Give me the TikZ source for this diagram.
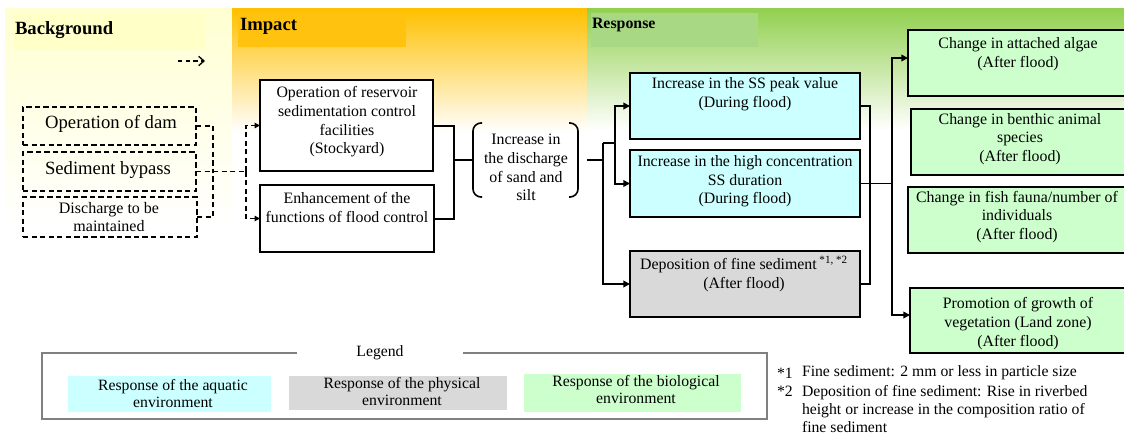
\documentclass[tikz,border=0pt]{standalone}
\usepackage{fontspec}
\setmainfont{Liberation Serif}
\usetikzlibrary{arrows.meta,fit,calc}

\definecolor{aqua}{HTML}{CCFFFF}
\definecolor{phys}{HTML}{D9D9D9}
\definecolor{bio}{HTML}{CCFFCC}
\definecolor{yelTop}{HTML}{FFFFD2}
\definecolor{yelMid}{HTML}{FFFFEA}
\definecolor{yelTitle}{HTML}{FFFFC8}
\definecolor{orTop}{HTML}{FFC000}
\definecolor{orMid}{HTML}{FFD868}
\definecolor{orTitle}{HTML}{FFC20E}
\definecolor{grTop}{HTML}{92D050}
\definecolor{grMid}{HTML}{C2E4A2}
\definecolor{grTitle}{HTML}{A8D884}
\definecolor{legGray}{HTML}{808080}

\newcommand\bxfont{\fontsize{11.9}{14}\selectfont}
\newcommand\lgfont{\fontsize{11.8}{12.8}\selectfont}
\newcommand\fnfont{\fontsize{11.8}{13.5}\selectfont}
\newcommand\bgfont{\fontsize{14}{16}\selectfont}

\begin{document}
\begin{tikzpicture}[x=0.75pt,y=-0.75pt,
  every node/.style={inner sep=0pt, outer sep=0pt},
  dashline/.style={line width=1pt, dash pattern=on 4pt off 2.4pt},
  dbox/.style={draw, dashline},
  sbox/.style={draw, line width=1.5pt},
  txt/.style={align=center, font=\bxfont},
  ttl/.style={anchor=west, font=\bfseries\bgfont},
  link/.style={line width=1.5pt},
  link2/.style={line width=1.2pt},
  arr/.style={link, -{Triangle[length=5pt,width=5pt]}},
  arr2/.style={link2, -{Triangle[length=5pt,width=5pt]}},
  darr/.style={dashline, -{Triangle[length=4pt,width=4pt]}},
]
\useasboundingbox (0,0) rectangle (1124,435);

% ---- stage bands ----
\shade[top color=yelTop, middle color=yelMid, bottom color=white] (5,9) rectangle (232,230);
\shade[top color=orTop, middle color=orMid, bottom color=white] (232,9) rectangle (587,132);
\shade[top color=grTop, middle color=grMid, bottom color=white] (587,9) rectangle (1124,130);

\fill[yelTitle] (14,13) rectangle (205,50);
\fill[orTitle] (238,13) rectangle (406,47);
\fill[grTitle] (591,13) rectangle (758,47);

\node[ttl] (tBack) at (15,30) {Background};
\node[ttl] (tImp) at (240,26) {Impact};
\node[ttl, font=\bfseries\bxfont] (tResp) at (592,25) {Response};

\coordinate (dA) at (178,61);
\coordinate (dB) at (205,61);
\draw[line width=1pt, dash pattern=on 3.2pt off 2.6pt, -{Straight Barb[length=4pt,width=7pt]}] (dA) -- (dB);

% ---- background measures ----
\node[dbox, fit={(23,107)(196,145)}] (dam) {};
\node[font=\bgfont] (damT) at (111,124) {Operation of dam};
\node[dbox, fit={(23,152)(196,191)}] (byp) {};
\node[font=\bgfont] (bypT) at (108,170) {Sediment bypass};
\node[dbox, fit={(23,197)(197,237)}] (dis) {};
\node[align=center, font=\fontsize{12}{14}\selectfont] (disT) at (109,217) {Discharge to be\\maintained};

\coordinate (jL) at ($(byp.east)+(17,0)$);
\coordinate (jR) at ($(byp.east)+(50,0)$);
\draw[dashline] (dam.east) -| (jL);
\draw[dashline] (dis.east) -| (jL);
\draw[dashline] (byp.east) -- (jR);

% ---- impacts ----
\node[sbox, fill=white, fit={(260,80)(433,171)}] (imp1) {};
\node[txt] (imp1T) at (347,122) {Operation of reservoir\\sedimentation control\\facilities\\(Stockyard)};
\node[sbox, fill=white, fit={(260,185)(434,252)}] (imp2) {};
\node[txt] (imp2T) at (347,207.5) {Enhancement of the\\functions of flood control};

\draw[darr] (jR) |- (imp1.west);
\draw[darr] (jR) |- (imp2.west);

\node[fit={(473,123)(578,197)}] (brk) {};
\node[txt] (brkT) at (526,167.5) {Increase in\\the discharge\\of sand and\\silt};
\draw[link2, rounded corners=6pt] ($(brk.north west)+(9,0)$) -- (brk.north west) -- (brk.south west) -- ++(9,0);
\draw[link2, rounded corners=6pt] ($(brk.north east)+(-9,0)$) -- (brk.north east) -- (brk.south east) -- ++(-9,0);

\coordinate (m1) at ($(brk.west)+(-19,0)$);
\draw[link] (imp1.east) -| (m1);
\draw[link] (imp2.east) -| (m1);
\draw[link] (m1) -- (brk.west);

% ---- responses ----
\node[sbox, fill=aqua, fit={(630,73)(860,139)}] (ss1) {};
\node[txt] (ss1T) at (745,94) {Increase in the SS peak value\\(During flood)};
\node[sbox, fill=aqua, fit={(630,150)(860,217)}] (ss2) {};
\node[txt] (ss2T) at (745,181.5) {Increase in the high concentration\\SS duration\\(During flood)};
\node[sbox, fill=phys, fit={(630,251)(860,317)}] (dep) {};
\node[txt] (depT) at (744,274) {Deposition of fine sediment\,\textsuperscript{*1, *2}\\(After flood)};

\coordinate (r1) at (603,143);
\coordinate (r2) at (615,143);
\draw[link] ($(brk.east)+(9,0)$) -- (brk.east -| r1);
\draw[link] (r1) -- (r2);
\draw[arr] (r1) |- (dep.west);
\draw[arr] (r2) |- (ss1.west);
\draw[arr] (r2) |- (ss2.west);

\node[sbox, fill=bio, fit={(908,30)(1130,96)}] (alg) {};
\node[txt] (algT) at (1018,54) {Change in attached algae\\(After flood)};
\node[sbox, fill=bio, fit={(911,109)(1130,175)}] (ben) {};
\node[txt] (benT) at (1020,139) {Change in benthic animal\\species\\(After flood)};
\node[sbox, fill=bio, fit={(908,187)(1130,253)}] (fish) {};
\node[txt] (fishT) at (1017,217) {Change in fish fauna/number of\\individuals\\(After flood)};
\node[sbox, fill=bio, fit={(910,288)(1130,353)}] (veg) {};
\node[txt] (vegT) at (1018,323.5) {Promotion of growth of\\vegetation (Land zone)\\(After flood)};

\coordinate (q1) at ($(ss2.east)+(10,0)$);
\coordinate (q2) at ($(ss2.east)+(32,0)$);
\draw[link2] (ss1.east) -| (q1);
\draw[link2] (dep.east) -| (q1);
\draw[link2] (ss2.east) -- (q2);
\draw[arr2] (q2) |- ($(alg.north west)+(0,28)$);
\draw[arr2] (q2) |- ($(veg.north west)+(0,27)$);

% ---- legend ----
\node[draw=legGray, line width=0.9pt, fit={(42,353)(767,419)}] (leg) {};
\node[fill=white, minimum width=124.5pt, minimum height=14pt, font=\lgfont] (legT) at (380,353) {Legend};
\node[fill=aqua, fit={(68,376)(271,412)}] (lg1) {};
\node[align=center, font=\lgfont] (lg1T) at (173,393.5) {Response of the aquatic\\environment};
\node[fill=phys, fit={(289,376)(507,410)}] (lg2) {};
\node[align=center, font=\lgfont] (lg2T) at (402,391.5) {Response of the physical\\environment};
\node[fill=bio, fit={(524,374)(741,412)}] (lg3) {};
\node[align=center, font=\lgfont] (lg3T) at (636,390) {Response of the biological\\environment};

% ---- notes ----
\node[anchor=west, font=\fnfont] (fn1m) at (777,373) {*1};
\node[anchor=west, font=\fnfont] (fn1) at (802,373) {Fine sediment: 2 mm or less in particle size};
\node[anchor=west, font=\fnfont] (fn2m) at (777,391) {*2};
\node[anchor=west, align=left, font=\fnfont] (fn2) at (802,409) {Deposition of fine sediment: Rise in riverbed\\height or increase in the composition ratio of\\fine sediment};
\end{tikzpicture}
\end{document}
